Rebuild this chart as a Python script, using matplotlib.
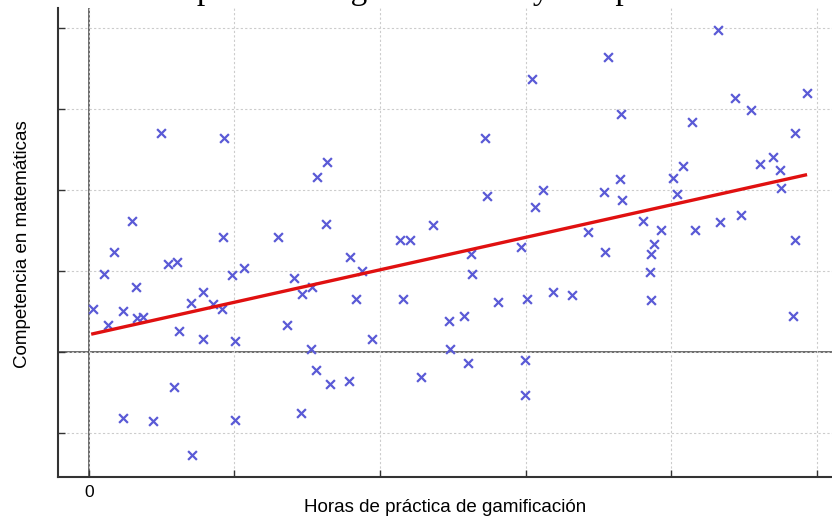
import matplotlib
matplotlib.use("Agg")
import matplotlib.pyplot as plt

# Data
horas = [0.99, 1.86, 0.59, 1.84, 2.60, 0.34, 0.21, 1.09, 1.21, 1.97,
         2.13, 2.82, 0.65, 0.05, 0.47, 0.66, 0.74, 1.40, 1.57, 1.70,
         1.83, 0.26, 1.24, 1.57, 2.01, 2.72, 1.17, 0.47, 0.88, 2.01,
         1.42, 3.59, 3.75, 2.93, 3.07, 3.67, 4.32, 3.89, 3.05, 4.95,
         5.15, 4.96, 5.21, 5.62, 6.02, 6.38, 6.64, 5.25, 5.26, 3.12,
         3.31, 3.57, 2.91, 4.56, 5.99, 5.99, 6.09, 5.44, 3.27, 3.13,
         5.47, 6.24, 6.13, 3.26, 4.73, 4.27, 4.41, 5.94, 8.65, 7.13,
         8.88, 9.87, 9.10, 7.31, 8.29, 9.70, 8.16, 8.03, 9.22, 9.40,
         9.50, 7.30, 7.08, 7.33, 8.08, 9.51, 6.86, 7.62, 7.86, 8.33,
         8.67, 8.96, 7.09, 7.77, 7.73, 9.70, 7.71, 7.73, 9.68]
competencia = [2.70, 2.64, 1.62, 1.42, 1.42, 1.23, 0.96, 1.09, 1.11, 0.95,
               1.04, 0.91, 0.80, 0.53, 0.51, 0.42, 0.43, 0.60, 0.74, 0.59,
               0.53, 0.33, 0.26, 0.16, 0.14, 0.33, -0.43, -0.81, -0.85, -0.84,
               -1.27, 1.17, 1.00, 0.72, 0.80, 0.65, 0.65, 0.16, 0.04, 0.38,
               0.44, 0.04, -0.14, 0.62, 0.65, 0.74, 0.70, 1.21, 0.96, -0.22,
               -0.40, -0.36, -0.75, -0.31, -0.10, -0.53, 3.37, 2.64, 2.35, 2.16,
               1.93, 2.00, 1.79, 1.58, 1.57, 1.38, 1.38, 1.30, 3.98, 3.64,
               3.14, 3.20, 2.99, 2.94, 2.84, 2.70, 2.30, 2.15, 2.32, 2.41,
               2.25, 2.14, 1.98, 1.88, 1.95, 2.02, 1.48, 1.62, 1.51, 1.51,
               1.60, 1.69, 1.23, 1.33, 1.21, 1.38, 0.99, 0.64, 0.44]

recta_x = [0.03, 9.87]
recta_y = [0.22, 2.19]

x_ticks = [0, 2, 4, 6, 8, 10]
x_tick_labels = ["0", "", "", "", "", ""]
y_ticks = [-1, 0, 1, 2, 3, 4]

titulo = "Relación entre práctica de gamificación y competencia en matemáticas"
x_label = "Horas de práctica de gamificación"
y_label = "Competencia en matemáticas"

W, H = 832, 516
fig = plt.figure(figsize=(W / 100, H / 100), dpi=100)
ax = fig.add_axes([58 / W, (H - 477) / H, (878 - 58) / W, (477 - 8) / H])

ax.set_xlim(-0.426, 10.845)
ax.set_ylim(-1.543, 4.247)

ax.grid(True, color="#cccccc", linestyle=(0, (2, 2)), linewidth=0.8, zorder=0)
ax.axhline(0, color="#444444", linewidth=1.1, zorder=1)
ax.axvline(0, color="#444444", linewidth=1.1, zorder=1)

ax.scatter(horas, competencia, marker="x", s=40, linewidths=1.6,
           color="#5a5ad6", zorder=3)
ax.plot(recta_x, recta_y, color="#e01010", linewidth=2.4, zorder=4,
        solid_capstyle="butt")

ax.set_xticks(x_ticks)
ax.set_xticklabels(x_tick_labels, fontfamily="Liberation Sans", fontsize=12.5)
ax.set_yticks(y_ticks)
ax.set_yticklabels([])
ax.tick_params(direction="in", length=5, width=1, color="#333333", pad=6)

for side in ["top", "right"]:
    ax.spines[side].set_visible(False)
for side in ["left", "bottom"]:
    ax.spines[side].set_color("#333333")
    ax.spines[side].set_linewidth(1.5)

fig.text(445 / W, (H - 512) / H, x_label, ha="center", va="baseline",
         fontfamily="Liberation Sans", fontsize=13.5)
fig.text(27 / W, (H - 244) / H, y_label, ha="center", va="baseline",
         rotation=90, rotation_mode="anchor", fontfamily="Liberation Sans",
         fontsize=13.5)
fig.text((58 + 878) / 2 / W, 1 + 1 / H, titulo, ha="center", va="baseline",
         fontfamily="Liberation Serif", fontsize=24)

fig.savefig("out.png", dpi=100)
